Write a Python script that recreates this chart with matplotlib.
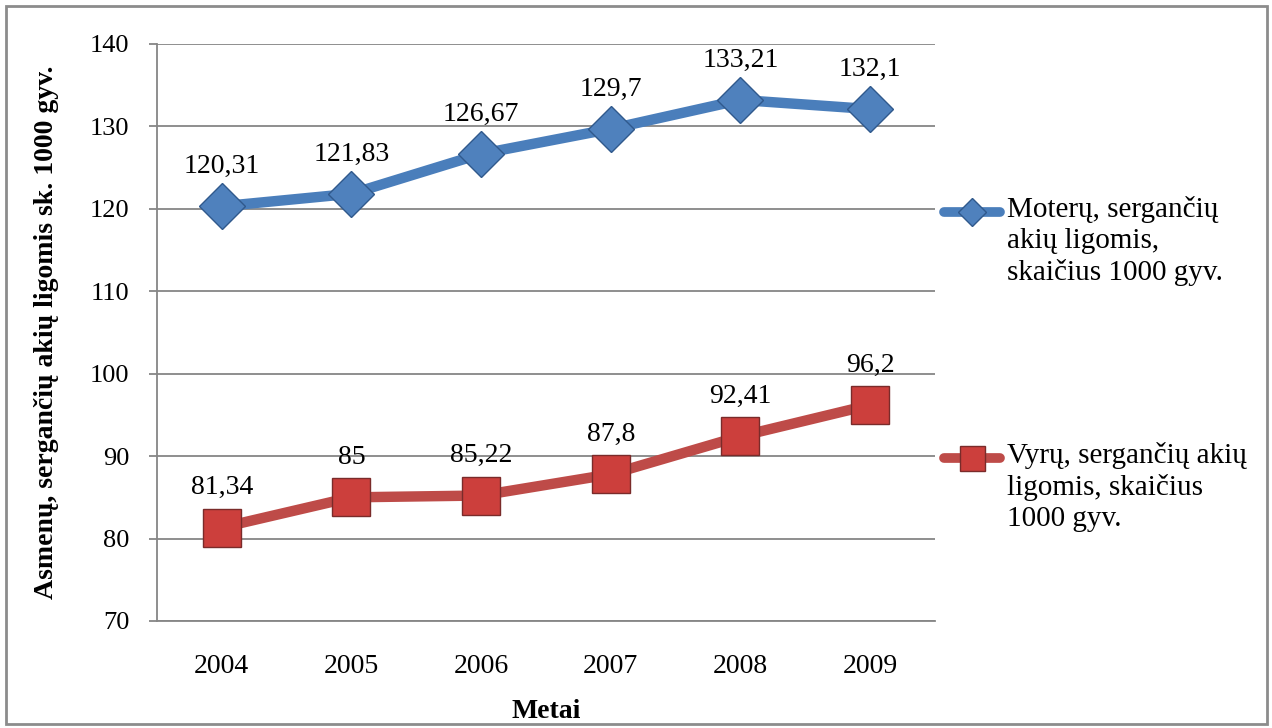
import matplotlib
matplotlib.use("Agg")
import matplotlib.pyplot as plt
from matplotlib.lines import Line2D
from matplotlib.patches import Rectangle

years = ["2004", "2005", "2006", "2007", "2008", "2009"]
women = [120.31, 121.83, 126.67, 129.7, 133.21, 132.1]
men = [81.34, 85, 85.22, 87.8, 92.41, 96.2]
women_labels = ["120,31", "121,83", "126,67", "129,7", "133,21", "132,1"]
men_labels = ["81,34", "85", "85,22", "87,8", "92,41", "96,2"]
women_name = "Moterų, sergančių\nakių ligomis,\nskaičius 1000 gyv."
men_name = "Vyrų, sergančių akių\nligomis, skaičius\n1000 gyv."

BLUE_LINE = "#4A7EBB"
BLUE_FACE = "#4F81BD"
BLUE_EDGE = "#30598C"
RED_LINE = "#BE4B48"
RED_FACE = "#CC3F3C"
RED_EDGE = "#7A2B2A"
GRID = "#868686"

plt.rcParams["font.family"] = ["Liberation Serif", "DejaVu Serif"]

fig = plt.figure(figsize=(12.72, 7.28), dpi=100)
ax = fig.add_axes([0.1234, 0.147, 0.6116, 0.7926])

x = list(range(len(years)))
ax.plot(x, women, color=BLUE_LINE, lw=7.5, marker="D", ms=23,
        mfc=BLUE_FACE, mec=BLUE_EDGE, mew=1, solid_capstyle="round", zorder=3)
ax.plot(x, men, color=RED_LINE, lw=7.5, marker="s", ms=27,
        mfc=RED_FACE, mec=RED_EDGE, mew=1, solid_capstyle="round", zorder=3)

for xi, v, t in zip(x, women, women_labels):
    ax.annotate(t, (xi, v), xytext=(0, 24), textcoords="offset points",
                ha="center", va="baseline", fontsize=20, zorder=4)
for xi, v, t in zip(x, men, men_labels):
    ax.annotate(t, (xi, v), xytext=(0, 24), textcoords="offset points",
                ha="center", va="baseline", fontsize=20, zorder=4)

ax.set_xlim(-0.5, len(years) - 0.5)
ax.set_ylim(70, 140)
ax.set_yticks(range(70, 141, 10))
ax.set_xticks(x)
ax.set_xticklabels(years)
ax.yaxis.grid(True, color=GRID, lw=1.3)
ax.set_axisbelow(True)

for s in ["top", "right"]:
    ax.spines[s].set_visible(False)
for s in ["left", "bottom"]:
    ax.spines[s].set_color(GRID)
    ax.spines[s].set_linewidth(1.3)
ax.tick_params(axis="y", length=6, color=GRID, width=1.3, labelsize=19, pad=14)
ax.tick_params(axis="x", length=0, labelsize=20, pad=24)

ax.set_xlabel("Metai", fontsize=20, fontweight="bold", labelpad=14)
ax.set_ylabel("Asmenų, sergančių akių ligomis sk. 1000 gyv.", fontsize=20,
              fontweight="bold", labelpad=22)

# legend drawn by hand so the handle sits on the first text line
W, H = 1272, 728
def legend_entry(ypix, color, face, edge, marker, ms, label):
    yf = 1 - ypix / H
    fig.add_artist(Line2D([944 / W, 1000 / W], [yf, yf], color=color, lw=7,
                          solid_capstyle="round", transform=fig.transFigure))
    fig.add_artist(Line2D([972 / W], [yf], marker=marker, ms=ms, mfc=face,
                          mec=edge, mew=1, transform=fig.transFigure))
    fig.text(1007 / W, yf + 16 / H, label, fontsize=21, va="top", ha="left",
             linespacing=1.25, transform=fig.transFigure)

legend_entry(212, BLUE_LINE, BLUE_FACE, BLUE_EDGE, "D", 14, women_name)
legend_entry(458, RED_LINE, RED_FACE, RED_EDGE, "s", 18, men_name)

fig.add_artist(Rectangle((6 / W, 4 / H), 1261 / W, 718 / H, fill=False,
                         ec="#8C8C8C", lw=2, transform=fig.transFigure))

fig.savefig("out.png", dpi=100)
